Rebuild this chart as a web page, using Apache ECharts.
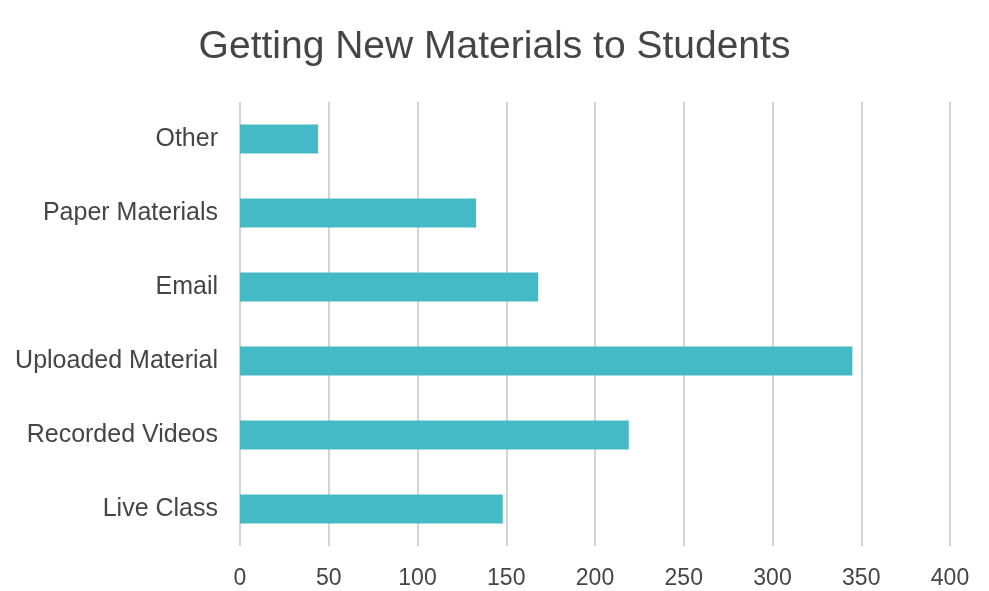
<!DOCTYPE html>
<html>
<head>
<meta charset="utf-8">
<script src="https://cdn.jsdelivr.net/npm/echarts@6/dist/echarts.min.js"></script>
<style>html,body{margin:0;padding:0;background:#fff}#c{width:989px;height:591px}</style>
</head>
<body>
<div id="c"></div>
<script>
const categories = ["Live Class", "Recorded Videos", "Uploaded Material", "Email", "Paper Materials", "Other"];
const values = [148, 219, 345, 168, 133, 44];
const xTicks = [0, 50, 100, 150, 200, 250, 300, 350, 400];

const chart = echarts.init(document.getElementById('c'));
chart.setOption({
  animation: false,
  backgroundColor: '#ffffff',
  title: {
    text: 'Getting New Materials to Students',
    left: 'center',
    top: 23,
    textStyle: { fontFamily: 'Liberation Sans, Arial, sans-serif', fontSize: 39, fontWeight: 'normal', color: '#454545' }
  },
  grid: { left: 240, right: 39, top: 102, bottom: 45, containLabel: false },
  xAxis: {
    type: 'value',
    min: xTicks[0],
    max: xTicks[xTicks.length - 1],
    interval: 50,
    axisLine: { show: false },
    axisTick: { show: false },
    axisLabel: { fontFamily: 'Liberation Sans, Arial, sans-serif', fontSize: 23, color: '#454545', margin: 21 },
    splitLine: { show: true, lineStyle: { color: '#d4d4d4', width: 2 } }
  },
  yAxis: {
    type: 'category',
    data: categories,
    axisLine: { show: false },
    axisTick: { show: false },
    axisLabel: { fontFamily: 'Liberation Sans, Arial, sans-serif', fontSize: 25, color: '#454545', margin: 22 }
  },
  series: [{
    type: 'bar',
    data: values,
    barWidth: 29,
    itemStyle: { color: '#43bac6' }
  }]
});
</script>
</body>
</html>
